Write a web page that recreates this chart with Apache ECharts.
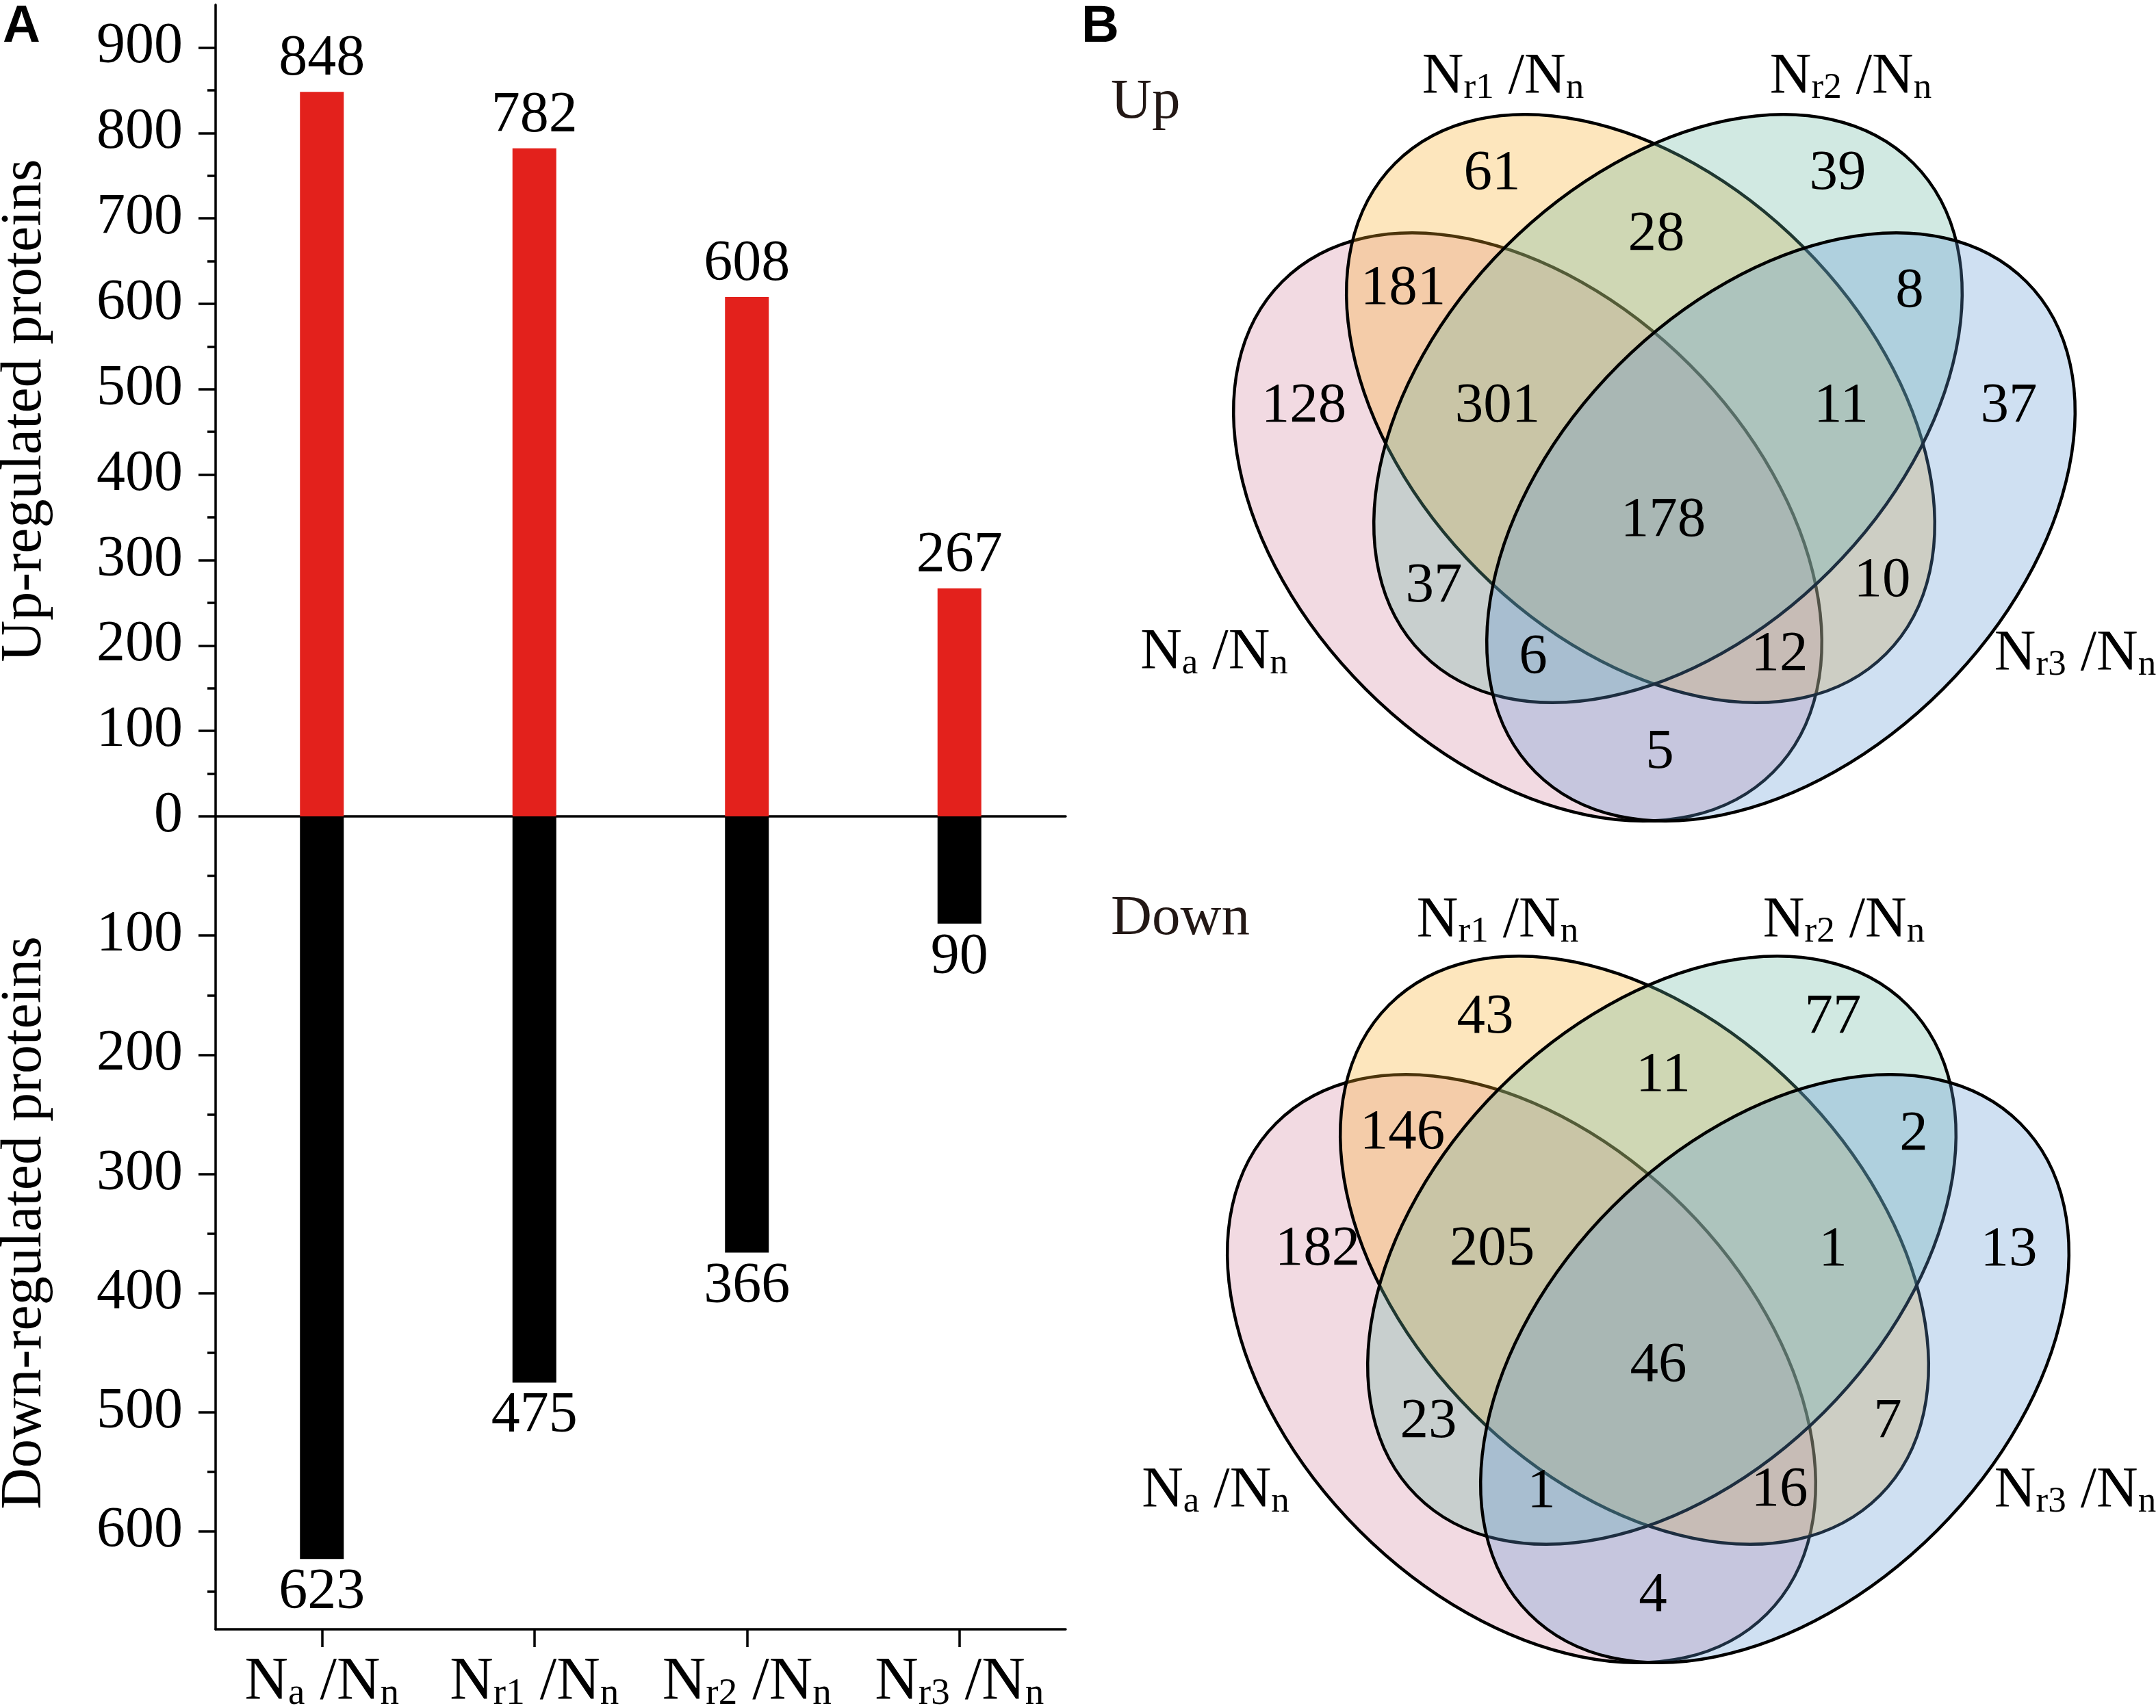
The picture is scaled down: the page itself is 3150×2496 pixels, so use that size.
<!DOCTYPE html>
<html>
<head>
<meta charset="utf-8">
<script src="https://cdn.jsdelivr.net/npm/echarts@6.0.0/dist/echarts.min.js"></script>
<style>
html,body{margin:0;padding:0;background:#fff;}
#chart{width:3150px;height:2496px;}
</style>
</head>
<body>
<div id="chart"></div>
<script>
// ================= DATA =================
const categories = ['Na /Nn', 'Nr1 /Nn', 'Nr2 /Nn', 'Nr3 /Nn'];
const upRegulated = [848, 782, 608, 267];
const downRegulated = [623, 475, 366, 90];
const upTicks = [0, 100, 200, 300, 400, 500, 600, 700, 800, 900];
const upMinorTicks = [50, 150, 250, 350, 450, 550, 650, 750, 850];
const downTicks = [100, 200, 300, 400, 500, 600];
const downMinorTicks = [50, 150, 250, 350, 450, 550, 650];

const vennSets = ['Na /Nn', 'Nr1 /Nn', 'Nr2 /Nn', 'Nr3 /Nn'];
const vennRegions = ['Na', 'Nr1', 'Nr2', 'Nr3', 'Na&Nr1', 'Nr1&Nr2', 'Nr2&Nr3', 'Na&Nr2', 'Nr1&Nr3', 'Na&Nr3',
  'Na&Nr1&Nr2', 'Nr1&Nr2&Nr3', 'Na&Nr2&Nr3', 'Na&Nr1&Nr3', 'Na&Nr1&Nr2&Nr3'];
const vennUpCounts = [128, 61, 39, 37, 181, 28, 8, 37, 10, 5, 301, 11, 6, 12, 178];
const vennDownCounts = [182, 43, 77, 13, 146, 11, 2, 23, 7, 4, 205, 1, 1, 16, 46];

// ================= LAYOUT / STYLE =================
const SERIF = '"Liberation Serif", "Times New Roman", serif';
const SANS = '"Liberation Sans", Arial, sans-serif';
const FS = 84;

// Venn panel layout, in panel units (one unit = one panel pixel)
const vennEllipses = [ // cx, cy, rx, ry, tilt (+1 = upper-left to lower-right)
  [652, 770, 507, 335, 1],
  [817, 597, 507, 335, 1],
  [857, 597, 507, 335, -1],
  [1022, 770, 507, 335, -1]
];
const vennFills = ['rgba(212,132,158,0.3)', 'rgba(248,172,38,0.3)', 'rgba(102,182,158,0.3)', 'rgba(95,152,212,0.3)'];
const vennPanels = [
  { left: 1580, top: 0, title: 'Up', titleY: 150,
    setAnchors: [[194, 955], [616, 114], [1124, 114], [1452, 957]],
    regionAnchors: [[325, 594], [600, 254], [1105, 254], [1355, 594], [470, 422], [840, 343], [1210, 426],
      [515, 857], [1170, 849], [845, 1100], [608, 594], [1110, 594], [660, 961], [1020, 957], [850, 761]],
    counts: vennUpCounts },
  { left: 1571, top: 1230, title: 'Down', titleY: 1343,
    setAnchors: [[205, 950], [617, 117], [1123, 117], [1461, 950]],
    regionAnchors: [[354, 596], [599, 257], [1107, 257], [1364, 597], [478, 426], [859, 342], [1225, 428],
      [516, 848], [1187, 848], [844, 1102], [609, 596], [1107, 597], [681, 950], [1029, 948], [852, 766]],
    counts: vennDownCounts }
];
const PANEL_W = 1570, PANEL_H = 1250;

function richName(s) {
  const m = s.match(/^N(\S+) \/N(\S+)$/);
  return '{N|N}{s|' + m[1] + '}{N| /N}{s|' + m[2] + '}';
}

const chart = echarts.init(document.getElementById('chart'), null, { renderer: 'canvas', width: 3150, height: 2496 });

const axisLineStyle = { color: '#000', width: 3.5 };

const grids = [
  { left: 315, top: 7, width: 1242, height: 1186, outerBoundsMode: 'none', containLabel: false },
  { left: 315, top: 1193, width: 1242, height: 1188, outerBoundsMode: 'none', containLabel: false }
];
vennPanels.forEach(p => grids.push({ left: p.left, top: p.top, width: PANEL_W, height: PANEL_H, outerBoundsMode: 'none', containLabel: false }));

const xAxes = [
  { gridIndex: 0, type: 'category', data: categories, position: 'bottom',
    axisLine: { show: true, onZero: false, lineStyle: axisLineStyle }, axisTick: { show: false }, axisLabel: { show: false }, splitLine: { show: false } },
  { gridIndex: 1, type: 'category', data: categories, position: 'bottom',
    axisLine: { show: true, onZero: false, lineStyle: axisLineStyle },
    axisTick: { show: true, alignWithLabel: true, inside: false, length: 26, lineStyle: axisLineStyle },
    axisLabel: { show: true, margin: 34, formatter: v => richName(v),
      rich: {
        N: { fontSize: 88, fontFamily: SERIF, color: '#000', lineHeight: 88, verticalAlign: 'bottom' },
        s: { fontSize: 55, fontFamily: SERIF, color: '#000', lineHeight: 66, verticalAlign: 'bottom' }
      } },
    splitLine: { show: false } },
  { gridIndex: 2, type: 'value', min: 0, max: PANEL_W, show: false },
  { gridIndex: 3, type: 'value', min: 0, max: PANEL_W, show: false }
];

const yAxes = [
  { gridIndex: 0, type: 'value', min: 0, max: 950, position: 'left',
    axisLine: { show: true, onZero: false, lineStyle: axisLineStyle },
    axisTick: { show: true, inside: false, length: 25, customValues: upTicks, lineStyle: axisLineStyle },
    axisLabel: { show: true, customValues: upTicks, margin: 48, fontSize: FS, fontFamily: SERIF, color: '#000' },
    splitLine: { show: false },
    name: 'Up-regulated proteins', nameLocation: 'middle', nameGap: 236, nameRotate: 90,
    nameTextStyle: { fontSize: FS, fontFamily: SERIF, color: '#000' } },
  { gridIndex: 0, type: 'value', min: 0, max: 950, position: 'left',
    axisLine: { show: false, onZero: false },
    axisTick: { show: true, inside: false, length: 12, customValues: upMinorTicks, lineStyle: axisLineStyle },
    axisLabel: { show: false }, splitLine: { show: false } },
  { gridIndex: 1, type: 'value', min: 0, max: 682, inverse: true, position: 'left',
    axisLine: { show: true, onZero: false, lineStyle: axisLineStyle },
    axisTick: { show: true, inside: false, length: 25, customValues: downTicks, lineStyle: axisLineStyle },
    axisLabel: { show: true, customValues: downTicks, margin: 48, fontSize: FS, fontFamily: SERIF, color: '#000' },
    splitLine: { show: false },
    name: 'Down-regulated proteins', nameLocation: 'middle', nameGap: 236, nameRotate: 90,
    nameTextStyle: { fontSize: FS, fontFamily: SERIF, color: '#000' } },
  { gridIndex: 1, type: 'value', min: 0, max: 682, inverse: true, position: 'left',
    axisLine: { show: false, onZero: false },
    axisTick: { show: true, inside: false, length: 12, customValues: downMinorTicks, lineStyle: axisLineStyle },
    axisLabel: { show: false }, splitLine: { show: false } },
  { gridIndex: 2, type: 'value', min: 0, max: PANEL_H, inverse: true, show: false },
  { gridIndex: 3, type: 'value', min: 0, max: PANEL_H, inverse: true, show: false }
];

const series = [
  { type: 'bar', name: 'Up', xAxisIndex: 0, yAxisIndex: 0, data: upRegulated, barWidth: 64,
    itemStyle: { color: '#E3211C' },
    label: { show: true, position: 'top', distance: 5, fontSize: FS, fontFamily: SERIF, color: '#000' } },
  { type: 'bar', name: 'Down', xAxisIndex: 1, yAxisIndex: 2, data: downRegulated, barWidth: 64,
    itemStyle: { color: '#000' },
    label: { show: true, position: 'bottom', distance: 8, fontSize: FS, fontFamily: SERIF, color: '#000' } }
];

vennPanels.forEach((p, k) => {
  series.push({
    type: 'custom', xAxisIndex: 2 + k, yAxisIndex: 4 + k, z: 2, silent: true,
    data: vennEllipses.map((e, i) => [e[0], e[1], e[2], e[3], e[4], i]),
    renderItem: (params, api) => {
      const c = api.coord([api.value(0), api.value(1)]);
      const s = api.size([api.value(2), api.value(3)]);
      const i = api.value(5);
      return { type: 'ellipse', x: c[0], y: c[1], rotation: -api.value(4) * Math.PI / 4,
        shape: { cx: 0, cy: 0, rx: s[0], ry: s[1] },
        style: { fill: vennFills[i], stroke: '#000', lineWidth: 4.5 } };
    }
  });
  series.push({
    type: 'custom', xAxisIndex: 2 + k, yAxisIndex: 4 + k, z: 3, silent: true,
    data: p.counts.map((c, i) => [p.regionAnchors[i][0], p.regionAnchors[i][1], c]),
    renderItem: (params, api) => {
      const c = api.coord([api.value(0), api.value(1)]);
      return { type: 'text', x: c[0], y: c[1],
        style: { text: String(api.value(2)), fontSize: 83, fontFamily: SERIF, fill: '#000', align: 'center', verticalAlign: 'middle' } };
    }
  });
  series.push({
    type: 'custom', xAxisIndex: 2 + k, yAxisIndex: 4 + k, z: 3, silent: true,
    data: p.setAnchors.map((a, i) => [a[0], a[1], i]),
    renderItem: (params, api) => {
      const c = api.coord([api.value(0), api.value(1)]);
      return { type: 'text', x: c[0], y: c[1],
        style: { text: richName(vennSets[api.value(2)]), align: 'center', verticalAlign: 'middle',
          rich: {
            N: { fontSize: 84, fontFamily: SERIF, fill: '#000', lineHeight: 84, verticalAlign: 'bottom' },
            s: { fontSize: 53, fontFamily: SERIF, fill: '#000', lineHeight: 63, verticalAlign: 'bottom' }
          } } };
    }
  });
});

const graphic = [
  { type: 'text', x: 4, y: 40, style: { text: 'A', fontSize: 76, fontWeight: 'bold', fontFamily: SANS, fill: '#000', align: 'left', verticalAlign: 'middle' } },
  { type: 'text', x: 1580, y: 40, style: { text: 'B', fontSize: 76, fontWeight: 'bold', fontFamily: SANS, fill: '#000', align: 'left', verticalAlign: 'middle' } }
];
vennPanels.forEach(p => graphic.push({ type: 'text', x: 1623, y: p.titleY,
  style: { text: p.title, fontSize: 83, fontFamily: SERIF, fill: '#231815', align: 'left', verticalAlign: 'middle' } }));

chart.setOption({
  backgroundColor: '#fff',
  animation: false,
  grid: grids,
  xAxis: xAxes,
  yAxis: yAxes,
  series: series,
  graphic: graphic
});
</script>
</body>
</html>
